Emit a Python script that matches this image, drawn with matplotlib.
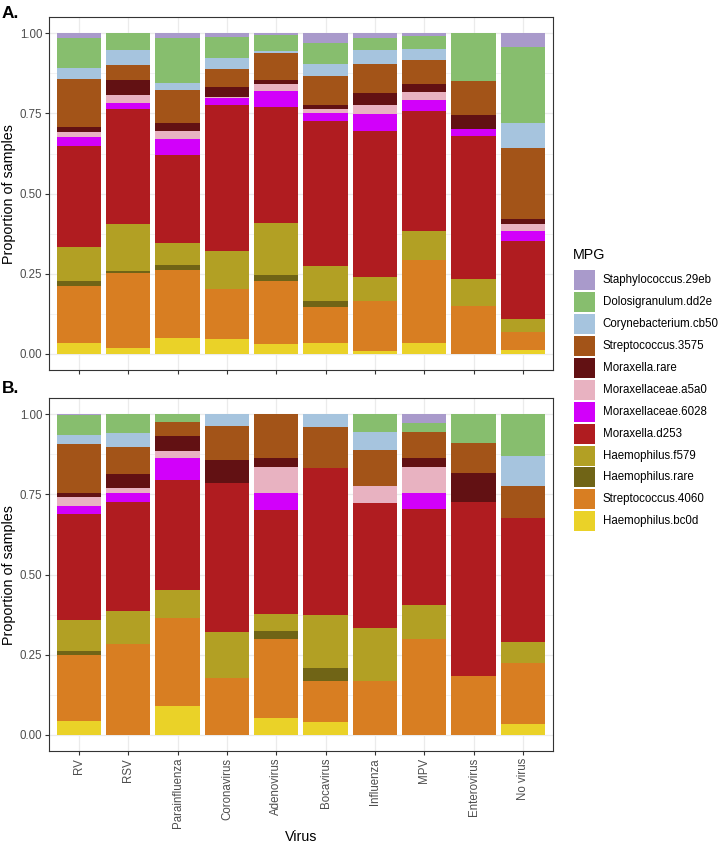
import matplotlib
matplotlib.use('Agg')
import matplotlib.pyplot as plt
from matplotlib.patches import Rectangle
import numpy as np

plt.rcParams['font.family'] = ['Liberation Sans', 'DejaVu Sans']

viruses = ['RV', 'RSV', 'Parainfluenza', 'Coronavirus', 'Adenovirus',
           'Bocavirus', 'Influenza', 'MPV', 'Enterovirus', 'No virus']

# stacking order bottom -> top
mpg_labels = ['Haemophilus.bc0d', 'Streptococcus.4060', 'Haemophilus.rare',
              'Haemophilus.f579', 'Moraxella.d253', 'Moraxellaceae.6028',
              'Moraxellaceae.a5a0', 'Moraxella.rare', 'Streptococcus.3575',
              'Corynebacterium.cb50', 'Dolosigranulum.dd2e', 'Staphylococcus.29eb']
mpg_colors = ['#EAD228', '#D87E22', '#706416', '#B2A024', '#B01C20', '#D200FA',
              '#E8B2C1', '#621113', '#A35418', '#A6C4DE', '#87BE6E', '#A99ACB']

# Panel A proportions (per virus)
A_haemophilus_bc0d   = [0.034, 0.019, 0.051, 0.047, 0.031, 0.033, 0.008, 0.034, 0.000, 0.012]
A_streptococcus_4060 = [0.178, 0.235, 0.210, 0.157, 0.198, 0.115, 0.158, 0.258, 0.150, 0.057]
A_haemophilus_rare   = [0.015, 0.005, 0.018, 0.000, 0.018, 0.018, 0.000, 0.000, 0.000, 0.000]
A_haemophilus_f579   = [0.107, 0.145, 0.068, 0.116, 0.163, 0.109, 0.074, 0.092, 0.085, 0.040]
A_moraxella_d253     = [0.316, 0.360, 0.275, 0.457, 0.361, 0.451, 0.455, 0.375, 0.446, 0.244]
A_moraxellaceae_6028 = [0.027, 0.019, 0.050, 0.020, 0.048, 0.025, 0.052, 0.032, 0.021, 0.030]
A_moraxellaceae_a5a0 = [0.015, 0.025, 0.022, 0.004, 0.024, 0.013, 0.030, 0.025, 0.000, 0.023]
A_moraxella_rare     = [0.016, 0.045, 0.027, 0.031, 0.012, 0.013, 0.037, 0.025, 0.042, 0.014]
A_streptococcus_3575 = [0.149, 0.049, 0.101, 0.057, 0.083, 0.089, 0.090, 0.077, 0.108, 0.221]
A_corynebacterium    = [0.035, 0.045, 0.023, 0.034, 0.008, 0.039, 0.045, 0.033, 0.000, 0.078]
A_dolosigranulum     = [0.093, 0.053, 0.142, 0.067, 0.049, 0.064, 0.038, 0.041, 0.148, 0.237]
A_staphylococcus     = [0.015, 0.000, 0.013, 0.010, 0.005, 0.031, 0.013, 0.008, 0.000, 0.044]

# Panel B proportions (per virus)
B_haemophilus_bc0d   = [0.044, 0.000, 0.090, 0.000, 0.054, 0.041, 0.000, 0.000, 0.000, 0.033]
B_streptococcus_4060 = [0.206, 0.285, 0.274, 0.178, 0.244, 0.126, 0.167, 0.298, 0.184, 0.192]
B_haemophilus_rare   = [0.013, 0.000, 0.000, 0.000, 0.026, 0.042, 0.000, 0.000, 0.000, 0.000]
B_haemophilus_f579   = [0.097, 0.101, 0.089, 0.143, 0.054, 0.165, 0.167, 0.108, 0.000, 0.065]
B_moraxella_d253     = [0.329, 0.342, 0.343, 0.464, 0.324, 0.460, 0.389, 0.298, 0.544, 0.388]
B_moraxellaceae_6028 = [0.026, 0.028, 0.067, 0.000, 0.054, 0.000, 0.000, 0.052, 0.000, 0.000]
B_moraxellaceae_a5a0 = [0.027, 0.015, 0.023, 0.000, 0.081, 0.000, 0.054, 0.081, 0.000, 0.000]
B_moraxella_rare     = [0.012, 0.043, 0.045, 0.073, 0.027, 0.000, 0.000, 0.027, 0.090, 0.000]
B_streptococcus_3575 = [0.153, 0.085, 0.045, 0.106, 0.136, 0.125, 0.112, 0.082, 0.092, 0.097]
B_corynebacterium    = [0.027, 0.042, 0.000, 0.036, 0.000, 0.041, 0.056, 0.000, 0.000, 0.096]
B_dolosigranulum     = [0.063, 0.059, 0.024, 0.000, 0.000, 0.000, 0.055, 0.026, 0.090, 0.129]
B_staphylococcus     = [0.003, 0.000, 0.000, 0.000, 0.000, 0.000, 0.000, 0.028, 0.000, 0.000]

panel_A = [A_haemophilus_bc0d, A_streptococcus_4060, A_haemophilus_rare, A_haemophilus_f579,
           A_moraxella_d253, A_moraxellaceae_6028, A_moraxellaceae_a5a0, A_moraxella_rare,
           A_streptococcus_3575, A_corynebacterium, A_dolosigranulum, A_staphylococcus]
panel_B = [B_haemophilus_bc0d, B_streptococcus_4060, B_haemophilus_rare, B_haemophilus_f579,
           B_moraxella_d253, B_moraxellaceae_6028, B_moraxellaceae_a5a0, B_moraxella_rare,
           B_streptococcus_3575, B_corynebacterium, B_dolosigranulum, B_staphylococcus]

W, H = 723, 846
fig = plt.figure(figsize=(W / 100, H / 100), dpi=100)

def fx(px):
    return px / W

def fy(py):
    return 1 - py / H

left, right = 49.3, 552.5
ax_a = fig.add_axes([fx(left), fy(370), fx(right) - fx(left), fy(17.3) - fy(370)])
ax_b = fig.add_axes([fx(left), fy(751), fx(right) - fx(left), fy(398.3) - fy(751)])

x = np.arange(1, len(viruses) + 1)
grey20 = '#333333'
grey30 = '#4D4D4D'

def draw_panel(ax, data, show_x):
    bottom = np.zeros(len(viruses))
    for vals, col in zip(data, mpg_colors):
        v = np.array(vals)
        ax.bar(x, v, bottom=bottom, width=0.9, color=col, linewidth=0, zorder=3)
        bottom += v
    ax.set_xlim(0.4, 10.6)
    ax.set_ylim(-0.05, 1.05)
    ax.set_yticks([0, 0.25, 0.5, 0.75, 1.0])
    ax.set_yticklabels(['0.00', '0.25', '0.50', '0.75', '1.00'])
    ax.set_yticks([0.125, 0.375, 0.625, 0.875], minor=True)
    ax.set_xticks(x)
    ax.grid(True, which='major', color='#EBEBEB', linewidth=0.9, zorder=0)
    ax.grid(True, which='minor', axis='y', color='#EBEBEB', linewidth=0.45, zorder=0)
    ax.tick_params(axis='both', which='major', length=3, width=0.8, color=grey20,
                   labelcolor=grey30, labelsize=8.3, pad=2)
    ax.tick_params(axis='y', which='minor', length=0)
    for s in ax.spines.values():
        s.set_color(grey20)
        s.set_linewidth(0.8)
    ax.set_ylabel('Proportion of samples', fontsize=10.3, labelpad=3)
    if show_x:
        ax.set_xticklabels(viruses, rotation=90, ha='center', va='top')
        ax.set_xlabel('Virus', fontsize=10.3, labelpad=1)
    else:
        ax.set_xticklabels([])

draw_panel(ax_a, panel_A, False)
draw_panel(ax_b, panel_B, True)

fig.text(fx(2), fy(6), 'A.', fontsize=12.5, fontweight='bold', ha='left', va='top')
fig.text(fx(2), fy(381), 'B.', fontsize=12.5, fontweight='bold', ha='left', va='top')

# Legend (drawn as keys + labels in figure coordinates)
fig.text(fx(573), fy(255), 'MPG', fontsize=10.3, ha='left', va='center')
key_w, key_h, pitch = 20.7, 20.0, 21.94
for i, (lab, col) in enumerate(zip(mpg_labels[::-1], mpg_colors[::-1])):
    top = 270 + i * pitch
    fig.add_artist(Rectangle((fx(574.3), fy(top + key_h)), fx(key_w), key_h / H,
                             transform=fig.transFigure, facecolor=col,
                             edgecolor='none'))
    fig.text(fx(602.7), fy(top + key_h / 2), lab, fontsize=8.3, ha='left',
             va='center', color='black')

fig.savefig('out.png', dpi=100)
